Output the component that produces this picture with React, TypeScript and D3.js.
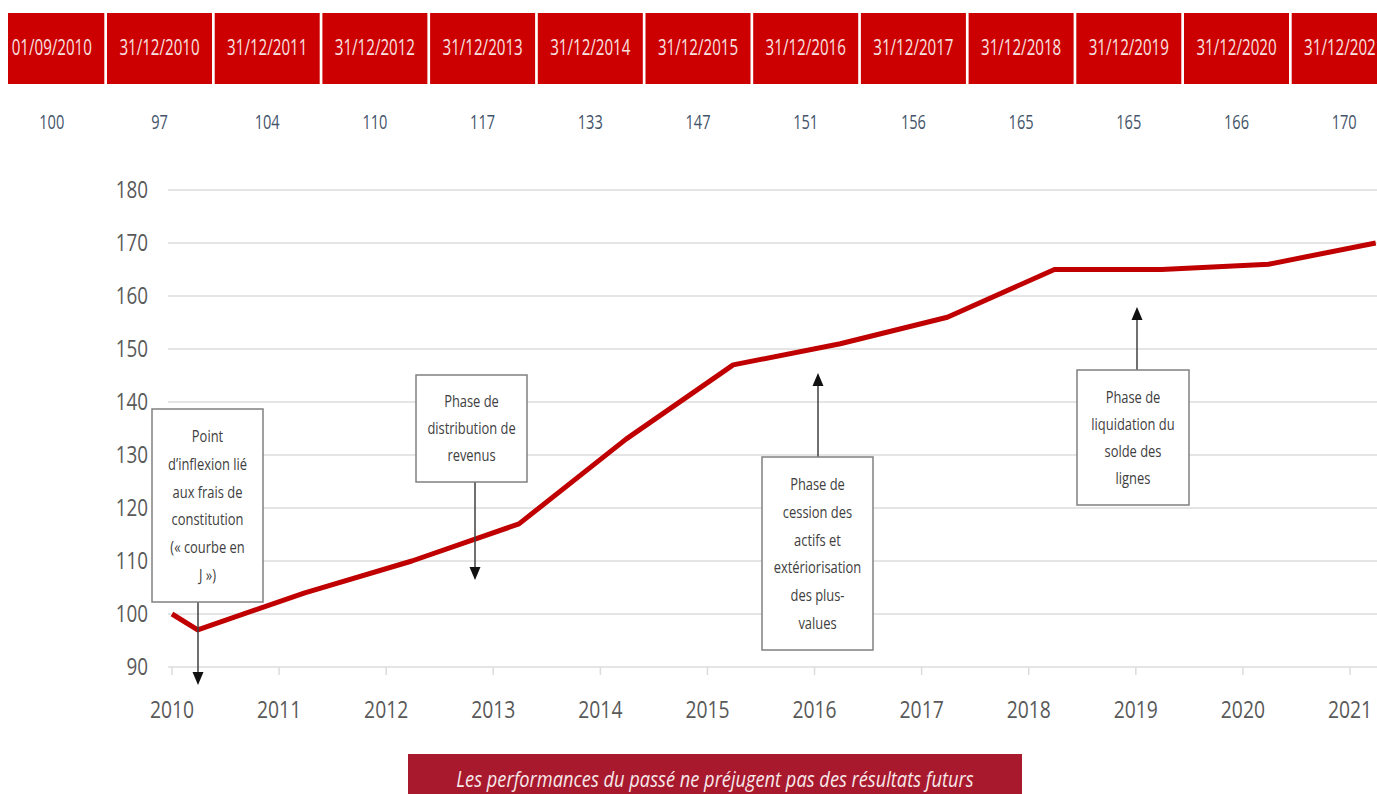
import React, { useEffect } from "react";
import * as d3 from "d3";

// ---- data ----
const dateLabels = [
  "01/09/2010", "31/12/2010", "31/12/2011", "31/12/2012", "31/12/2013",
  "31/12/2014", "31/12/2015", "31/12/2016", "31/12/2017", "31/12/2018",
  "31/12/2019", "31/12/2020", "31/12/2021",
];
const values = [100, 97, 104, 110, 117, 133, 147, 151, 156, 165, 165, 166, 170];
// position of each point on the year axis (axis units)
const axisPos = [2010, 2010.24, 2011.24, 2012.24, 2013.24, 2014.24, 2015.24, 2016.24, 2017.24, 2018.24, 2019.24, 2020.24, 2021.24];
const yearTicks = [2010, 2011, 2012, 2013, 2014, 2015, 2016, 2017, 2018, 2019, 2020, 2021];
const yTicks = [90, 100, 110, 120, 130, 140, 150, 160, 170, 180];

const annotations = [
  {
    lines: ["Point", "d\u2019inflexion lié", "aux frais de", "constitution", "(« courbe en", "J »)"],
    box: [152, 409, 263, 602], arrowX: 198, arrowFrom: 602, arrowTo: 685,
  },
  {
    lines: ["Phase de", "distribution de", "revenus"],
    box: [416, 375, 527, 482], arrowX: 475, arrowFrom: 482, arrowTo: 580,
  },
  {
    lines: ["Phase de", "cession des", "actifs et", "extériorisation", "des plus-", "values"],
    box: [762, 457, 873, 650], arrowX: 818, arrowFrom: 457, arrowTo: 373,
  },
  {
    lines: ["Phase de", "liquidation du", "solde des", "lignes"],
    box: [1077, 370, 1189, 505], arrowX: 1137, arrowFrom: 370, arrowTo: 307,
  },
];

const disclaimer = "Les performances du passé ne préjugent pas des résultats futurs";

const FONT = "'Open Sans', 'Noto Sans', sans-serif";

function SqText({ x, y, sx, size, fill, anchor = "middle", italic = false, children }: any) {
  return (
    <text
      transform={`translate(${x},${y}) scale(${sx},1)`}
      textAnchor={anchor}
      dy="0.35em"
      fontFamily={FONT}
      fontSize={size}
      fontStyle={italic ? "italic" : "normal"}
      fill={fill}
    >
      {children}
    </text>
  );
}

export default function App() {
  useEffect(() => {
    document.body.style.margin = "0";
    document.body.style.overflow = "hidden";
  }, []);

  const W = 1377, H = 794;
  const x = d3.scaleLinear().domain([2010, 2021]).range([172, 1350]);
  const y = d3.scaleLinear().domain([90, 180]).range([667, 190]);
  const hx = d3.scaleLinear().domain([0, 12]).range([51.8, 51.8 + 107.7 * 12]);
  const cellW = 105;

  const line = d3.line<number>()
    .x((_, i) => x(axisPos[i]))
    .y((d) => y(d));

  const arrowHead = (ax: number, tip: number, dir: number) => {
    const h = 13, w = 5.5;
    return `M${ax},${tip} L${ax - w},${tip - dir * h} L${ax + w},${tip - dir * h} Z`;
  };

  return (
    <svg width={W} height={H} style={{ position: "absolute", left: 0, top: 0, display: "block", background: "#fff" }}>
      <defs>
        <clipPath id="hdrclip">
          <rect x={8} y={0} width={W - 8} height={100} />
        </clipPath>
      </defs>

      {/* header cells */}
      <g clipPath="url(#hdrclip)">
        {dateLabels.map((d, i) => (
          <g key={d}>
            <rect x={hx(i) - cellW / 2} y={13} width={cellW} height={71} fill="#cc0000" />
            <SqText x={hx(i)} y={48} sx={0.72} size={21} fill="#f9e2e2">{d}</SqText>
          </g>
        ))}
      </g>
      {values.map((v, i) => (
        <SqText key={"v" + i} x={hx(i)} y={122} sx={0.73} size={20} fill="#44546a">{v}</SqText>
      ))}

      {/* grid */}
      {yTicks.map((t) => (
        <g key={"g" + t}>
          <line x1={168} x2={W} y1={y(t)} y2={y(t)} stroke="#dcdcdc" strokeWidth={1.5} />
          <SqText x={148} y={y(t)} sx={0.82} size={23} fill="#595959" anchor="end">{t}</SqText>
        </g>
      ))}
      {yearTicks.map((t) => (
        <g key={"x" + t}>
          <line x1={x(t)} x2={x(t)} y1={y(90)} y2={y(90) + 8} stroke="#dcdcdc" strokeWidth={1.5} />
          <SqText x={x(t)} y={710} sx={0.84} size={23} fill="#595959">{t}</SqText>
        </g>
      ))}

      {/* line */}
      <path d={line(values) || ""} fill="none" stroke="#c00000" strokeWidth={5} strokeLinejoin="round" />

      {/* annotations */}
      {annotations.map((a, k) => {
        const [x0, y0, x1, y1] = a.box;
        const cx = (x0 + x1) / 2;
        const n = a.lines.length;
        const lh = (y1 - y0 - 26) / n;
        const dir = a.arrowTo > a.arrowFrom ? 1 : -1;
        return (
          <g key={"a" + k}>
            <line x1={a.arrowX} x2={a.arrowX} y1={a.arrowFrom} y2={a.arrowTo - dir * 8} stroke="#404040" strokeWidth={1.5} />
            <path d={arrowHead(a.arrowX, a.arrowTo, dir)} fill="#111" />
            <rect x={x0} y={y0} width={x1 - x0} height={y1 - y0} fill="#fff" stroke="#808080" strokeWidth={1.5} />
            {a.lines.map((l, j) => (
              <SqText key={j} x={cx} y={y0 + 13 + lh * (j + 0.5)} sx={0.76} size={17} fill="#404040">{l}</SqText>
            ))}
          </g>
        );
      })}

      {/* disclaimer banner */}
      <rect x={408} y={754} width={614} height={50} fill="#a8192e" />
      <SqText x={715} y={779} sx={0.83} size={22} fill="#f7e8ea" italic>{disclaimer}</SqText>
    </svg>
  );
}
